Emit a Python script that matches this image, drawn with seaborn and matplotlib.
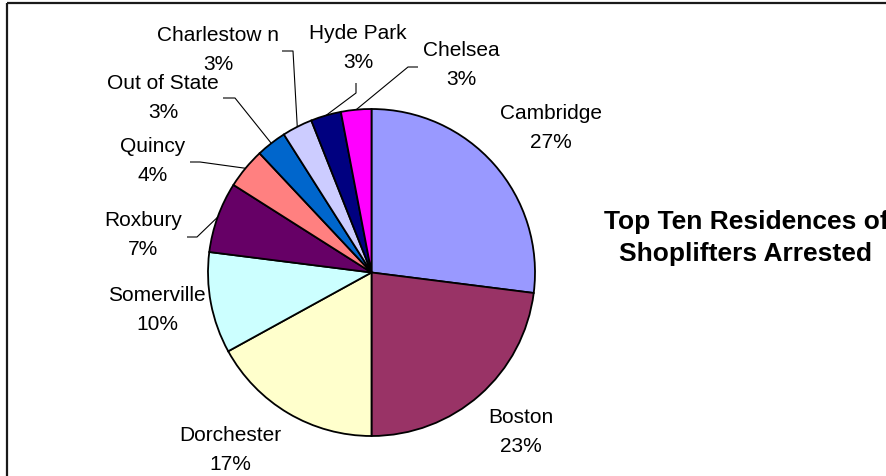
import matplotlib
matplotlib.use("Agg")
import numpy as np
import matplotlib.pyplot as plt
import seaborn as sns

# Residence of shoplifters arrested, clockwise from 12 o'clock
residences = ["Cambridge", "Boston", "Dorchester", "Somerville", "Roxbury",
              "Quincy", "Out of State", "Charlestow n", "Hyde Park", "Chelsea"]
shares = [27, 23, 17, 10, 7, 4, 3, 3, 3, 3]
title_lines = ["Top Ten Residences of", "Shoplifters Arrested"]

slice_colors = ["#9999FF", "#993366", "#FFFFCC", "#CCFFFF", "#660066",
                "#FF8080", "#0066CC", "#CCCCFF", "#000080", "#FF00FF"]

# Layout in pixel units (y grows downward)
W, H = 886, 477
pie_center = (371.5, 273.5)
pie_radius = 163.5
label_xy = {
    "Cambridge": (551, 128), "Boston": (521, 432), "Dorchester": (230, 450),
    "Somerville": (157, 310), "Roxbury": (143, 235), "Quincy": (153, 161),
    "Out of State": (163, 98), "Charlestow n": (218, 50),
    "Hyde Park": (358, 48), "Chelsea": (461, 65),
}
# leader lines: text-side start and elbow; the end sits on the slice rim
leaders = {
    "Roxbury": ((187, 238), (197, 238)),
    "Quincy": ((190, 163), (200, 163)),
    "Out of State": ((223, 99), (235, 99)),
    "Charlestow n": ((282, 52), (293, 52)),
    "Hyde Park": ((356, 84), (356, 94)),
    "Chelsea": ((418, 68), (408, 68)),
}

sns.set_theme(style="white")
plt.rcParams["font.family"] = ["Liberation Sans", "DejaVu Sans"]

fig = plt.figure(figsize=(W / 100, H / 100), dpi=100)
fig.patch.set_facecolor("white")
ax = fig.add_axes([0, 0, 1, 1])

palette = sns.color_palette(slice_colors)
wedges, _ = ax.pie(shares, colors=palette, startangle=-90, counterclock=True,
                   center=pie_center, radius=pie_radius,
                   wedgeprops=dict(edgecolor="black", linewidth=1.3))
ax.set_xlim(0, W)
ax.set_ylim(H, 0)
ax.set_aspect("equal", adjustable="box")
ax.axis("off")

for w, name, v in zip(wedges, residences, shares):
    x, y = label_xy[name]
    ax.text(x, y, f"{name}\n{v}%", ha="center", va="center",
            fontsize=15, linespacing=1.62, color="black")
    if name in leaders:
        mid = np.deg2rad((w.theta1 + w.theta2) / 2)
        ex = pie_center[0] + pie_radius * np.cos(mid)
        ey = pie_center[1] + pie_radius * np.sin(mid)
        (sx, sy), (bx, by) = leaders[name]
        ax.plot([sx, bx, ex], [sy, by, ey], color="black", lw=0.8,
                solid_capstyle="butt")

ax.text(746, 238, "\n".join(title_lines), ha="center", va="center",
        fontsize=19, fontweight="bold", linespacing=1.38, color="black")

# chart frame (top and left edges)
ax.plot([7.5, W], [4, 4], color="#1a1a1a", lw=1.6, solid_capstyle="butt")
ax.plot([7.5, 7.5], [4, H], color="#1a1a1a", lw=1.6, solid_capstyle="butt")

fig.savefig("out.png", dpi=100, facecolor="white")
